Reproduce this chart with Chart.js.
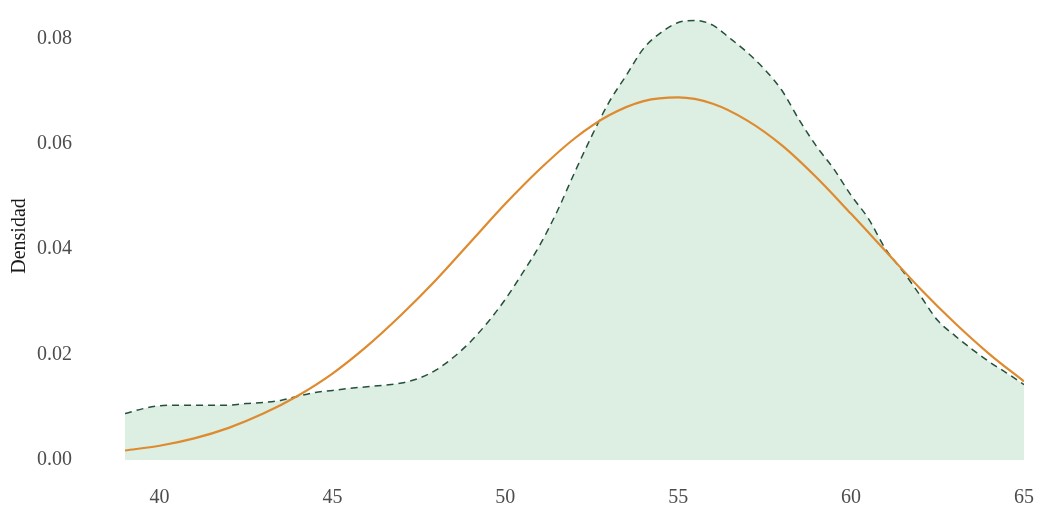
<!DOCTYPE html>
<html>
<head>
<meta charset="utf-8">
<title>Densidad</title>
<script src="https://cdn.jsdelivr.net/npm/chart.js@4/dist/chart.umd.min.js"></script>
<style>
  html, body { margin: 0; padding: 0; background: #ffffff; }
  #wrap { width: 1042px; height: 516px; position: relative; }
</style>
</head>
<body>
<div id="wrap"><canvas id="densityChart"></canvas></div>
<script>
// Empirical density (dashed, filled)
const densX = [39, 39.5, 40, 40.5, 41, 41.5, 42, 42.5, 43, 43.5, 44, 44.5, 45, 45.5, 46, 46.5,
  47, 47.5, 48, 48.5, 49, 49.5, 50, 50.5, 51, 51.5, 52, 52.5, 53, 53.5, 54, 54.5, 55, 55.5,
  56, 56.5, 57, 57.5, 58, 58.5, 59, 59.5, 60, 60.5, 61, 61.5, 62, 62.5, 63, 63.5, 64, 64.5, 65];
const densY = [0.0088, 0.0097, 0.0103, 0.0104, 0.0104, 0.0104, 0.0104, 0.0107, 0.0109, 0.0113,
  0.0121, 0.0128, 0.0132, 0.0136, 0.0139, 0.0142, 0.0146, 0.0155, 0.0171, 0.0195, 0.0225,
  0.0262, 0.0305, 0.0355, 0.0408, 0.0472, 0.0545, 0.0615, 0.0679, 0.0730, 0.0781, 0.0811,
  0.0830, 0.0834, 0.0825, 0.0800, 0.0773, 0.0741, 0.0701, 0.0645, 0.0595, 0.0552, 0.0502,
  0.0458, 0.0400, 0.0358, 0.0312, 0.0265, 0.0236, 0.0210, 0.0186, 0.0165, 0.0143];

// Normal curve (orange)
const normX = [39, 40, 41, 42, 43, 44, 45, 46, 47, 48, 49, 50, 51, 52,
  53, 54, 55, 56, 57, 58, 59, 60, 61, 62, 63, 64, 65];
const normY = [0.0018, 0.0027, 0.0041, 0.0061, 0.0088, 0.0122, 0.0164, 0.0216, 0.0276, 0.0342,
  0.0414, 0.0486, 0.0552, 0.0610, 0.0654, 0.0681, 0.0688, 0.0676, 0.0644, 0.0597, 0.0536,
  0.0467, 0.0396, 0.0325, 0.0260, 0.0201, 0.0149];

const xTicks = [40, 45, 50, 55, 60, 65];
const yTicks = [0, 0.02, 0.04, 0.06, 0.08];

const tickFont = { family: "'Liberation Serif', 'DejaVu Serif', serif", size: 20 };

new Chart(document.getElementById("densityChart"), {
  type: "line",
  data: {
    datasets: [
      {
        label: "Densidad",
        data: densX.map((x, i) => ({ x: x, y: densY[i] })),
        borderColor: "#24503c",
        borderWidth: 1.5,
        borderDash: [7, 5],
        backgroundColor: "#ddeee3",
        fill: "origin",
        pointRadius: 0,
        cubicInterpolationMode: "monotone",
        order: 2,
      },
      {
        label: "Normal",
        data: normX.map((x, i) => ({ x: x, y: normY[i] })),
        borderColor: "#de8a2f",
        borderWidth: 2.2,
        fill: false,
        pointRadius: 0,
        cubicInterpolationMode: "monotone",
        order: 1,
      },
    ],
  },
  options: {
    responsive: true,
    maintainAspectRatio: false,
    animation: false,
    layout: { padding: { top: 12, right: 18, bottom: 0, left: 0 } },
    plugins: {
      legend: { display: false },
      tooltip: { enabled: false },
    },
    scales: {
      x: {
        type: "linear",
        min: 39,
        max: 65,
        grid: { display: false, drawTicks: false },
        border: { display: false },
        afterBuildTicks: (scale) => { scale.ticks = xTicks.map((v) => ({ value: v })); },
        afterFit: (scale) => {
          scale.height = 56;
          scale.paddingLeft = 0;
          scale.paddingRight = 0;
        },
        ticks: {
          padding: 26,
          color: "#4d4d4d",
          font: tickFont,
          maxRotation: 0,
          callback: (v) => v,
        },
      },
      y: {
        min: 0,
        max: 0.085,
        grid: { display: false, drawTicks: false },
        border: { display: false },
        afterBuildTicks: (scale) => { scale.ticks = yTicks.map((v) => ({ value: v })); },
        afterFit: (scale) => {
          scale.width = 125;
          scale.paddingTop = 0;
          scale.paddingBottom = 0;
        },
        ticks: {
          padding: 53,
          color: "#4d4d4d",
          font: tickFont,
          callback: (v) => v.toFixed(2),
        },
        title: {
          display: true,
          text: "Densidad",
          color: "#1a1a1a",
          font: tickFont,
          padding: { top: 8, bottom: 0 },
        },
      },
    },
  },
});
</script>
</body>
</html>
